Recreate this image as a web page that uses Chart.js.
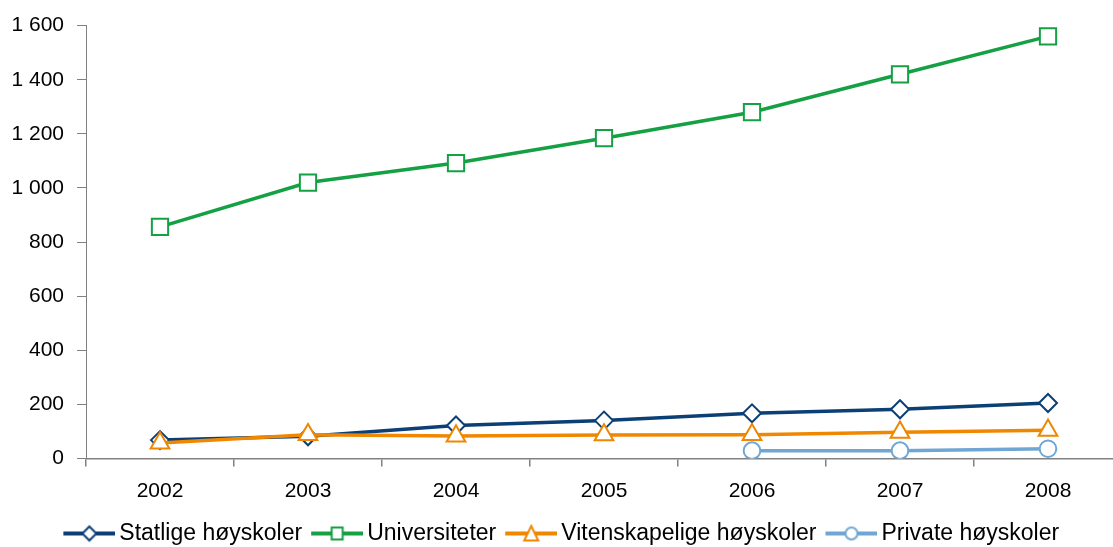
<!DOCTYPE html>
<html>
<head>
<meta charset="utf-8">
<script src="https://cdn.jsdelivr.net/npm/chart.js@4/dist/chart.umd.min.js"></script>
<style>
  html, body { margin: 0; padding: 0; background: #fff; overflow: hidden; }
  canvas { display: block; }
</style>
</head>
<body>
<canvas id="js-chart" width="1136" height="547"></canvas>
<script>
const years = ["2002", "2003", "2004", "2005", "2006", "2007", "2008"];
const statlige = [68, 82, 122, 140, 167, 182, 205];
const universiteter = [856, 1020, 1092, 1184, 1280, 1420, 1560];
const vitenskapelige = [57, 88, 83, 87, 88, 97, 104];
const privat = [null, null, null, null, 29, 29, 36];
const yTicks = [0, 200, 400, 600, 800, 1000, 1200, 1400, 1600];

const FONT = "'Liberation Sans', Arial, sans-serif";
const axisColor = "#808080";

// legend icon: short line with the marker in the middle,
// drawn at the right side of a wider image so the gaps come out right
function legendIcon(color, style) {
  const c = document.createElement("canvas");
  c.width = 67;
  c.height = 20;
  const ctx = c.getContext("2d");
  const x0 = 15; // line from x0 to x0 + 52
  const cx = x0 + 26;
  ctx.strokeStyle = color;
  ctx.lineWidth = 4;
  ctx.beginPath();
  ctx.moveTo(x0, 10);
  ctx.lineTo(x0 + 52, 10);
  ctx.stroke();
  ctx.lineWidth = 2;
  ctx.fillStyle = "#fff";
  ctx.beginPath();
  if (style === "rectRot") {
    ctx.moveTo(cx, 3); ctx.lineTo(cx + 7, 10); ctx.lineTo(cx, 17); ctx.lineTo(cx - 7, 10);
    ctx.closePath();
  } else if (style === "rect") {
    ctx.rect(cx - 5.5, 4, 11, 12);
  } else if (style === "triangle") {
    ctx.moveTo(cx, 2.5); ctx.lineTo(cx + 7, 17); ctx.lineTo(cx - 7, 17);
    ctx.closePath();
  } else {
    ctx.arc(cx, 10, 6, 0, Math.PI * 2);
  }
  ctx.fill();
  ctx.stroke();
  return c;
}

const series = [
  { label: "Statlige høyskoler", data: statlige, color: "#0b3f75", style: "rectRot", r: 9, order: 1 },
  { label: "Universiteter", data: universiteter, color: "#14a043", style: "rect", r: 11.5, order: 2 },
  { label: "Vitenskapelige høyskoler", data: vitenskapelige, color: "#f08700", style: "triangle", r: 10.8, order: 0 },
  { label: "Private høyskoler", data: privat, color: "#6fa6d3", style: "circle", r: 8.3, order: 3 },
];

const icons = series.map((s) => legendIcon(s.color, s.style));

const datasets = series.map((s) => ({
  label: s.label,
  data: s.data,
  order: s.order,
  borderColor: s.color,
  backgroundColor: "#fff",
  borderWidth: 3.5,
  pointStyle: s.style,
  pointRadius: s.r,
  pointHoverRadius: s.r,
  pointBorderWidth: 2,
  pointBackgroundColor: "#fff",
  pointBorderColor: s.color,
  tension: 0,
}));

const fmt = (v) => String(v).replace(/\B(?=(\d{3})+(?!\d))/g, " ");

// canvas is a bit wider than the window: the last category runs off the right edge,
// as in the original. left padding is negative only to nudge the legend a few px left
new Chart(document.getElementById("js-chart"), {
  type: "line",
  data: { labels: years, datasets },
  options: {
    responsive: false,
    animation: false,
    events: [],
    layout: { padding: { top: 11, right: 14, bottom: -8, left: -7 } },
    plugins: {
      tooltip: { enabled: false },
      legend: {
        position: "bottom",
        labels: {
          usePointStyle: true,
          pointStyleWidth: 52,
          padding: 1.5,
          color: "#000",
          font: { family: FONT, size: 23 },
          generateLabels: (chart) =>
            chart.data.datasets.map((ds, i) => ({
              text: ds.label,
              pointStyle: icons[i],
              fillStyle: "#fff",
              strokeStyle: ds.borderColor,
              lineWidth: 0,
              datasetIndex: i,
              hidden: false,
            })),
        },
      },
    },
    scales: {
      x: {
        offset: true,
        afterFit: (scale) => {
          scale.height = 62;
          scale.paddingLeft = 0;
          scale.paddingRight = 0;
        },
        border: { color: axisColor, width: 1.5 },
        grid: {
          offset: true,
          drawOnChartArea: false,
          drawTicks: true,
          tickLength: 8,
          color: axisColor,
          lineWidth: 1.5,
        },
        ticks: { color: "#000", padding: 12, font: { family: FONT, size: 21 } },
      },
      y: {
        min: 0,
        max: 1600,
        afterBuildTicks: (scale) => {
          scale.ticks = yTicks.map((v) => ({ value: v }));
        },
        afterFit: (scale) => {
          scale.width = 93;
        },
        border: { color: axisColor, width: 1 },
        grid: {
          drawOnChartArea: false,
          drawTicks: true,
          tickLength: 9,
          color: axisColor,
        },
        ticks: {
          color: "#000",
          padding: 13,
          font: { family: FONT, size: 21 },
          callback: (v) => fmt(v),
        },
      },
    },
  },
});
</script>
</body>
</html>
